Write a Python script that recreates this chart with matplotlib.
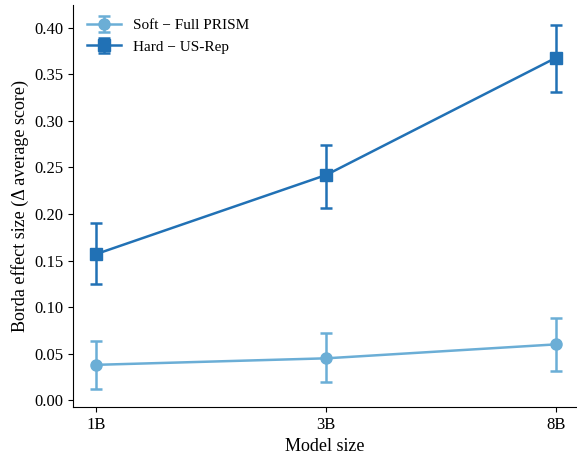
import matplotlib
matplotlib.use("Agg")
import matplotlib.pyplot as plt
import numpy as np

plt.rcParams['font.family'] = ['Liberation Serif', 'DejaVu Serif']

sizes = ["1B", "3B", "8B"]
soft_mean = [0.038, 0.045, 0.060]
soft_lo = [0.012, 0.020, 0.031]
soft_hi = [0.064, 0.072, 0.088]
hard_mean = [0.157, 0.242, 0.368]
hard_lo = [0.125, 0.207, 0.331]
hard_hi = [0.190, 0.274, 0.403]

soft_col = "#6baed6"
hard_col = "#2171b5"

fig = plt.figure(figsize=(5.77, 4.57), dpi=100)
ax = fig.add_axes([0.127, 0.109, 0.873, 0.880])

x = np.arange(len(sizes))
err_s = [np.array(soft_mean) - soft_lo, np.array(soft_hi) - soft_mean]
err_h = [np.array(hard_mean) - hard_lo, np.array(hard_hi) - hard_mean]

ax.errorbar(x, soft_mean, yerr=err_s, color=soft_col, marker="o", markersize=8,
            linewidth=1.8, capsize=4, elinewidth=1.8, capthick=1.8,
            label="Soft \u2212 Full PRISM")
ax.errorbar(x, hard_mean, yerr=err_h, color=hard_col, marker="s", markersize=8,
            linewidth=1.8, capsize=4, elinewidth=1.8, capthick=1.8,
            label="Hard \u2212 US-Rep")

yt = np.arange(0, 0.41, 0.05)
ax.set_xticks(x)
ax.set_xticklabels(sizes, fontsize=12)
ax.set_yticks(yt)
ax.set_yticklabels([f"{v:.2f}" for v in yt], fontsize=12)
ax.set_xlim(-0.1, 2.09)
ax.set_ylim(-0.0075, 0.4245)
ax.set_xlabel("Model size", fontsize=13)
ax.set_ylabel("Borda effect size (\u0394 average score)", fontsize=13)
ax.spines["top"].set_visible(False)
ax.spines["right"].set_visible(False)
ax.legend(loc="upper left", frameon=False, fontsize=11, handlelength=2.2)

fig.savefig("out.png", dpi=100)
